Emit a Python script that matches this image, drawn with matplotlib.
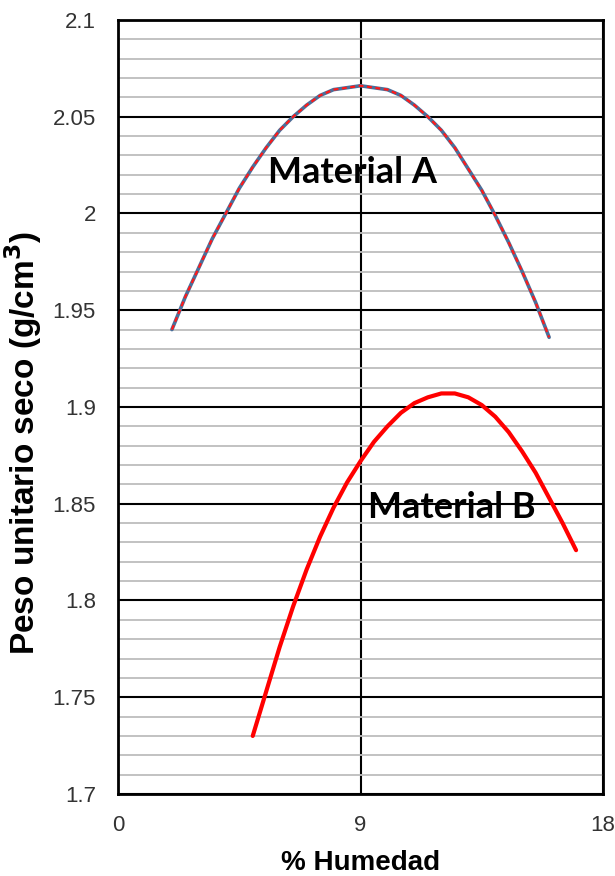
import numpy as np
import matplotlib
matplotlib.use("Agg")
import matplotlib.pyplot as plt
from matplotlib.ticker import MultipleLocator

# values
humedad_a = [2, 2.5, 3, 3.5, 4, 4.5, 5, 5.5, 6, 6.5, 7, 7.5, 8, 8.5, 9,
             9.5, 10, 10.5, 11, 11.5, 12, 12.5, 13, 13.5, 14, 14.5, 15, 15.5, 16]
peso_a = [1.940, 1.957, 1.972, 1.987, 2.000, 2.013, 2.024, 2.034, 2.043, 2.050,
          2.056, 2.061, 2.064, 2.065, 2.066, 2.065, 2.064, 2.061, 2.056, 2.050,
          2.043, 2.034, 2.023, 2.012, 1.999, 1.985, 1.970, 1.954, 1.936]

humedad_b = [5, 5.5, 6, 6.5, 7, 7.5, 8, 8.5, 9, 9.5, 10, 10.5, 11, 11.5, 12,
             12.5, 13, 13.5, 14, 14.5, 15, 15.5, 16, 16.5, 17]
peso_b = [1.730, 1.753, 1.776, 1.797, 1.816, 1.833, 1.848, 1.861, 1.872, 1.882,
          1.890, 1.897, 1.902, 1.905, 1.907, 1.907, 1.905, 1.901, 1.895, 1.887,
          1.877, 1.866, 1.853, 1.840, 1.826]

x_ticks = [0, 9, 18]
label_a = "Material A"
label_b = "Material B"

plt.rcParams['font.family'] = ['Liberation Sans', 'DejaVu Sans']

fig = plt.figure(figsize=(6.15, 8.76), dpi=100)
ax = fig.add_axes([0.1919, 0.0936, 0.7886, 0.8836])

ax.set_xlim(0, 18)
ax.set_ylim(1.7, 2.1)
ax.set_xticks(x_ticks)
ax.yaxis.set_major_locator(MultipleLocator(0.05))
ax.yaxis.set_minor_locator(MultipleLocator(0.01))
ax.yaxis.set_major_formatter(plt.FuncFormatter(lambda v, p: f"{v:.2f}".rstrip('0').rstrip('.')))

# gridlines
ax.grid(which='minor', axis='y', color='#bdbdbd', linewidth=1.3, zorder=0)
ax.grid(which='major', axis='y', color='black', linewidth=1.5, zorder=1)
ax.grid(which='major', axis='x', color='black', linewidth=1.5, zorder=1)
ax.tick_params(which='both', length=0)
ax.tick_params(axis='y', pad=16, labelsize=16, labelcolor='#333333')
ax.tick_params(axis='x', pad=15, labelsize=16, labelcolor='#333333')
for s in ax.spines.values():
    s.set_linewidth(2)
    s.set_color('black')

# material A: blue line under red dashes
ax.plot(humedad_a, peso_a, color='#4a6f9a', linewidth=2.6, zorder=3,
        solid_capstyle='round', solid_joinstyle='round')
ax.plot(humedad_a, peso_a, color='#ff1a1a', linewidth=1.6, dashes=(2.2, 1.6), zorder=4)

# material B
ax.plot(humedad_b, peso_b, color='#ff0000', linewidth=3, zorder=3,
        solid_capstyle='round', solid_joinstyle='round')

ax.text(8.72, 2.021, label_a, fontsize=26, fontweight='bold', family=['Lato', 'DejaVu Sans'],
        ha='center', va='center', zorder=5)
ax.text(12.38, 1.848, label_b, fontsize=26, fontweight='bold', family=['Lato', 'DejaVu Sans'],
        ha='center', va='center', zorder=5)

ax.set_xlabel("% Humedad", fontsize=20, fontweight='bold', labelpad=10)
ax.set_ylabel("Peso unitario seco (g/cm$^{\\mathbf{3}}$)", fontsize=24, fontweight='bold')
ax.yaxis.set_label_coords(-0.152, 0.4535)

fig.savefig("out.png", dpi=100)
